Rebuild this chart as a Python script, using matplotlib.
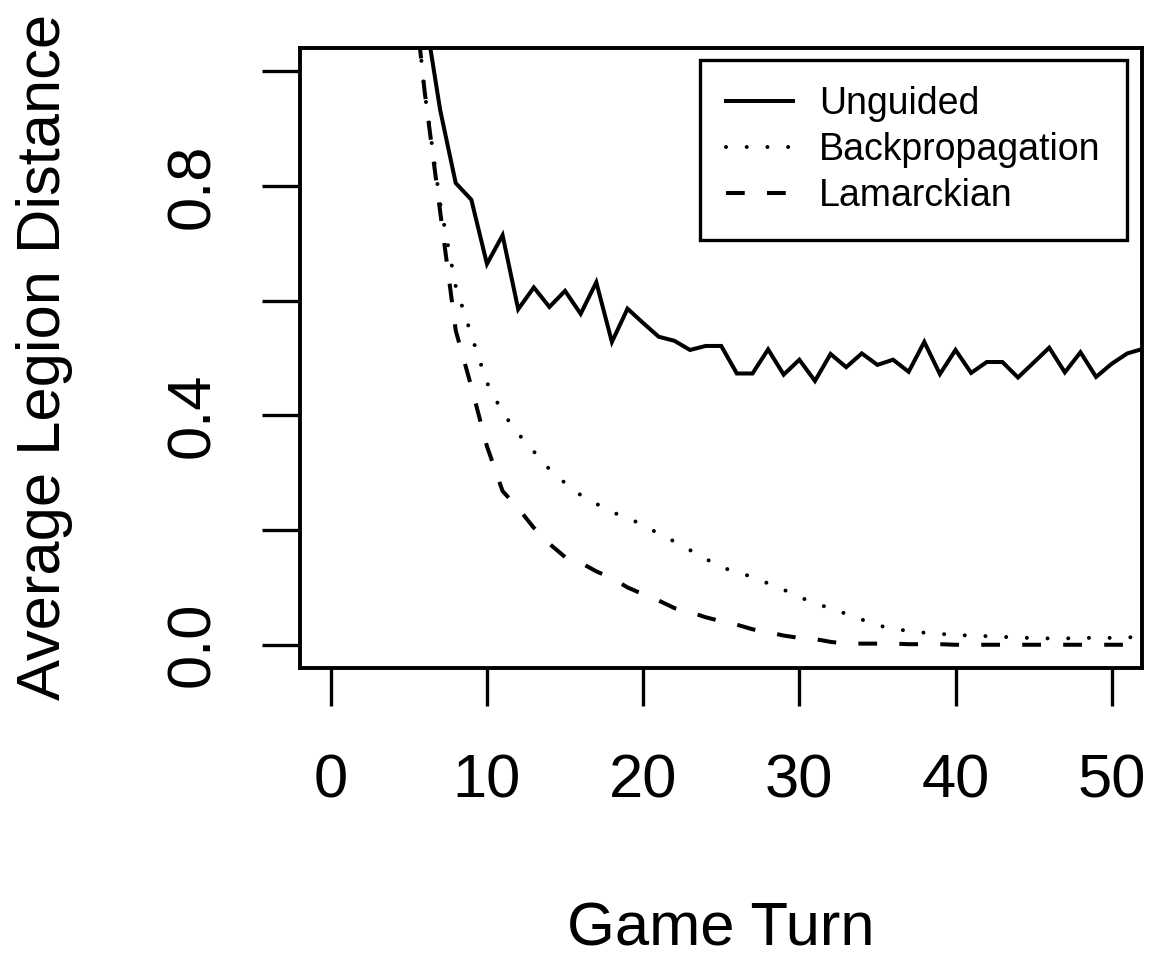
import matplotlib
matplotlib.use("Agg")
import matplotlib.pyplot as plt

plt.rcParams["font.family"] = ["Liberation Sans", "DejaVu Sans"]
plt.rcParams["lines.scale_dashes"] = False

# Game turns and average legion distance for each training method
turns = list(range(5, 53))

unguided = [1.28, 1.105, 0.933, 0.805, 0.776, 0.664, 0.714, 0.585, 0.623, 0.589,
            0.617, 0.577, 0.632, 0.528, 0.586, 0.561, 0.537, 0.530, 0.514, 0.521,
            0.521, 0.473, 0.473, 0.515, 0.471, 0.497, 0.460, 0.507, 0.484, 0.508,
            0.488, 0.497, 0.476, 0.528, 0.472, 0.514, 0.474, 0.493, 0.493, 0.466,
            0.492, 0.518, 0.475, 0.510, 0.467, 0.490, 0.508, 0.516]

backprop = [1.235, 0.965, 0.770, 0.625, 0.540, 0.457, 0.405, 0.368, 0.337, 0.306,
            0.282, 0.261, 0.246, 0.231, 0.222, 0.208, 0.194, 0.180, 0.165, 0.150,
            0.135, 0.127, 0.118, 0.107, 0.096, 0.083, 0.073, 0.063, 0.054, 0.044,
            0.034, 0.028, 0.024, 0.021, 0.019, 0.017, 0.016, 0.015, 0.014, 0.012,
            0.012, 0.011, 0.011, 0.012, 0.012, 0.012, 0.013, 0.013]

lamarckian = [1.22, 0.967, 0.756, 0.548, 0.450, 0.346, 0.268, 0.238, 0.204, 0.176,
              0.153, 0.143, 0.128, 0.116, 0.100, 0.088, 0.077, 0.064, 0.057, 0.048,
              0.041, 0.035, 0.027, 0.022, 0.016, 0.012, 0.010, 0.005, 0.002, 0.002,
              0.002, 0.002, 0.001, 0.001, 0.001, 0.0, 0.0, 0.0, 0.0, 0.0,
              0.0, 0.0, 0.0, 0.0, 0.0, 0.0, 0.0, 0.0]

series_names = ["Unguided", "Backpropagation", "Lamarckian"]
x_ticks = [0, 10, 20, 30, 40, 50]
y_ticks = [0.0, 0.2, 0.4, 0.6, 0.8, 1.0]
y_tick_labels = ["0.0", "", "0.4", "", "0.8", ""]

W, H = 1149, 957
fig = plt.figure(figsize=(W / 100, H / 100), dpi=100)
ax = fig.add_axes([300 / W, 1 - 667.7 / H, (1141.7 - 300) / W, (667.7 - 48.3) / H])

lw = 2.9
ax.plot(turns, unguided, color="black", lw=lw, linestyle="-",
        solid_joinstyle="miter", label=series_names[0])
ax.plot(turns, backprop, color="black", lw=lw, linestyle=(0, (0.01, 14.9)),
        dash_capstyle="round", label=series_names[1])
ax.plot(turns, lamarckian, color="black", lw=lw, linestyle=(0, (13.5, 16.0)),
        dash_capstyle="butt", label=series_names[2])

ax.set_xlim(-1.97, 51.92)
ax.set_ylim(-0.04, 1.04)

for s in ax.spines.values():
    s.set_linewidth(2.8)

ax.set_xticks(x_ticks)
ax.set_xticklabels([str(t) for t in x_ticks])
ax.set_yticks(y_ticks)
ax.set_yticklabels(y_tick_labels, rotation=90, va="center")
ax.tick_params(axis="both", direction="out", length=27.4, width=2.4,
               labelsize=44.3, colors="black")
ax.tick_params(axis="x", pad=34.5)
ax.tick_params(axis="y", pad=29)

fig.text(720.8 / W, 1 - 945 / H, "Game Turn", fontsize=44.3,
         ha="center", va="baseline")
fig.text(60 / W, 1 - 357 / H, "Average Legion Distance", fontsize=44.3,
         rotation=90, rotation_mode="anchor", ha="center", va="baseline")

leg = ax.legend(loc="upper right", bbox_to_anchor=(1126.7 / W, 1 - 60 / H),
                bbox_transform=fig.transFigure, borderaxespad=0,
                fontsize=27, handlelength=1.8, handletextpad=0.68,
                borderpad=0.7, labelspacing=0.26, fancybox=False,
                framealpha=1, edgecolor="black")
leg.get_frame().set_linewidth(2.4)

fig.savefig("out.png", dpi=100)
